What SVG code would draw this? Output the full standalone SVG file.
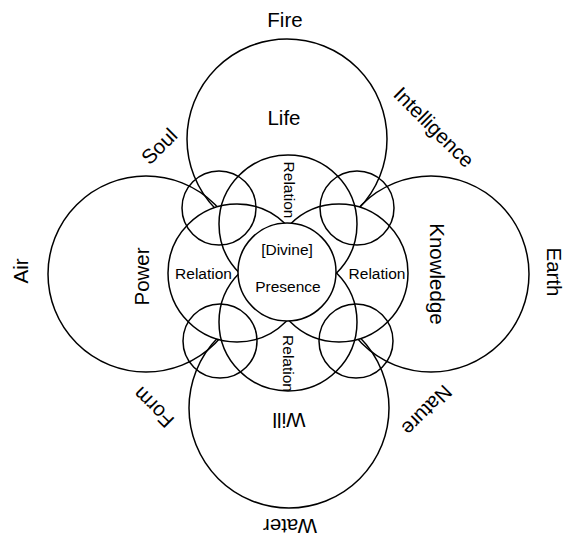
<svg xmlns="http://www.w3.org/2000/svg" width="565" height="537" viewBox="0 0 565 537">
<style>
  .c { fill: none; stroke: #000; stroke-width: 1.5; }
  .p { fill: #fff; stroke: #000; stroke-width: 1.5; }
  text { font-family: "Liberation Sans", Arial, Helvetica, sans-serif; fill: #000; text-anchor: middle; }
  .big { font-size: 20.5px; }
  .sm { font-size: 15.5px; }
</style>
<defs>
  <mask id="inner" maskUnits="userSpaceOnUse" x="0" y="0" width="565" height="537">
    <rect x="0" y="0" width="565" height="537" fill="#fff"/>
    <circle cx="288" cy="224" r="69" fill="#000"/>
    <circle cx="288" cy="322" r="69" fill="#000"/>
    <circle cx="237" cy="273" r="69" fill="#000"/>
    <circle cx="339" cy="273" r="69" fill="#000"/>
  </mask>
</defs>
<rect x="0" y="0" width="565" height="537" fill="#fff"/>

<g id="outer-circles" mask="url(#inner)">
  <g id="life"><circle class="c" cx="287" cy="139" r="100"/></g>
  <g id="power"><circle class="c" cx="146" cy="274" r="98"/></g>
  <g id="knowledge"><circle class="c" cx="431" cy="274" r="98"/></g>
  <g id="will"><circle class="c" cx="289" cy="408" r="100"/></g>
</g>
<g id="outer-labels">
  <text class="big" x="284" y="125" font-size="21">Life</text>
  <text class="big" transform="translate(141.5,276.5) rotate(-90)" x="0" y="7.3">Power</text>
  <text class="big" transform="translate(437.5,274) rotate(90)" x="0" y="7.3">Knowledge</text>
  <text class="big" transform="translate(289,420) rotate(180)" x="0" y="7.5" font-size="21">Will</text>
</g>

<g id="relation-top"><circle class="c" cx="288" cy="224" r="69"/>
  <text class="sm" transform="translate(289,190) rotate(90)" x="0" y="5.5">Relation</text></g>
<g id="relation-bottom"><circle class="c" cx="288" cy="322" r="69"/>
  <text class="sm" transform="translate(288.5,363.5) rotate(90)" x="0" y="5.5">Relation</text></g>
<g id="relation-left"><circle class="c" cx="237" cy="273" r="69"/>
  <text class="sm" x="203.5" y="279">Relation</text></g>
<g id="relation-right"><circle class="c" cx="339" cy="273" r="69"/>
  <text class="sm" x="377" y="279">Relation</text></g>

<g id="presence"><circle class="p" cx="287" cy="272" r="49"/>
  <text class="sm" x="287" y="255">[Divine]</text>
  <text class="sm" x="288" y="292">Presence</text></g>

<g id="soul"><circle class="c" cx="219" cy="208" r="37"/>
  <text class="big" transform="translate(159,146) rotate(-45)" x="0" y="7.3">Soul</text></g>
<g id="intelligence"><circle class="c" cx="357" cy="208" r="37"/>
  <text class="big" transform="translate(434,127) rotate(45)" x="0" y="7.3">Intelligence</text></g>
<g id="form"><circle class="c" cx="220" cy="341" r="37"/>
  <text class="big" transform="translate(153.5,407.5) rotate(225)" x="0" y="7.3">Form</text></g>
<g id="nature"><circle class="c" cx="356" cy="341" r="37"/>
  <text class="big" transform="translate(427,410.5) rotate(135)" x="0" y="7.3">Nature</text></g>

<g id="fire"><text class="big" x="285" y="27">Fire</text></g>
<g id="air"><text class="big" transform="translate(20.5,271) rotate(-90)" x="0" y="7.5" font-size="21">Air</text></g>
<g id="earth"><text class="big" transform="translate(554,272) rotate(90)" x="0" y="7.3">Earth</text></g>
<g id="water"><text class="big" transform="translate(290,526) rotate(180)" x="0" y="6.8" font-size="19">Water</text></g>

<g id="connectors"></g>
</svg>
